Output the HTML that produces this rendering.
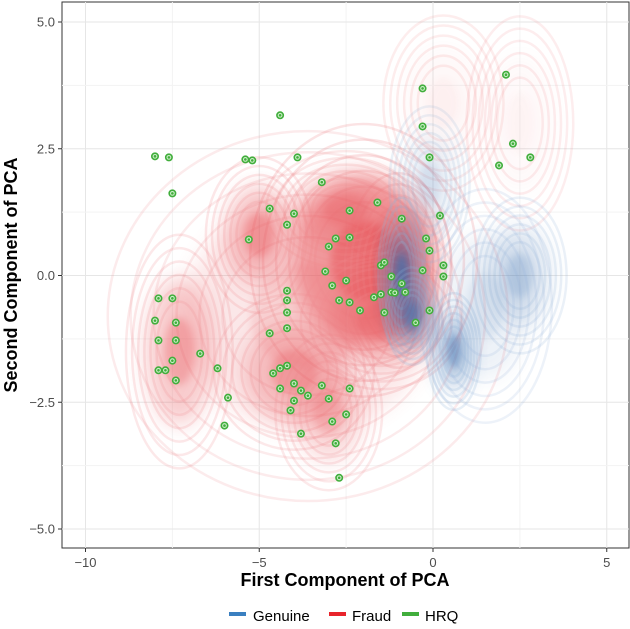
<!DOCTYPE html>
<html><head><meta charset="utf-8"><style>
body{margin:0;background:#fff;font-family:"Liberation Sans",sans-serif}
svg text{font-family:"Liberation Sans",sans-serif}
</style></head><body>
<svg id="c" width="630" height="624" xmlns="http://www.w3.org/2000/svg">
<defs>
<filter id="b1" x="-50%" y="-50%" width="200%" height="200%"><feGaussianBlur stdDeviation="10"/></filter>
<filter id="b2" x="-50%" y="-50%" width="200%" height="200%"><feGaussianBlur stdDeviation="4"/></filter>
<clipPath id="clip"><rect x="62" y="2" width="567" height="546"/></clipPath>
</defs>
<rect x="62" y="2" width="567" height="546" fill="#fff" stroke="#333" stroke-width="1"/>
<g id="grid"></g>
<g id="dens" clip-path="url(#clip)"></g>
<g id="pts"></g>
<g id="axes"></g>
<text x="345" y="586" text-anchor="middle" font-size="18" font-weight="bold">First Component of PCA</text>
<text transform="translate(17,275) rotate(-90)" text-anchor="middle" font-size="18" font-weight="bold">Second Component of PCA</text>
<g>
<rect x="229" y="612" width="17" height="4" fill="#3a7fc0"/>
<text x="253" y="621" font-size="15">Genuine</text>
<rect x="329" y="612" width="17" height="4" fill="#e8242b"/>
<text x="352" y="621" font-size="15">Fraud</text>
<rect x="402" y="612" width="17" height="4" fill="#41ae3c"/>
<text x="425" y="621" font-size="15">HRQ</text>
</g>
</svg>
<script>
const xTicks=[-10,-5,0,5];
const yTicks=[-5,-2.5,0,2.5,5];
const yTickLabels=["−5.0","−2.5","0.0","2.5","5.0"];
const xTickLabels=["−10","−5","0","5"];
const hrqX=[-8.0,-7.6,-7.5,-5.4,-5.2,-3.9,-4.4,-3.2,-4.7,-4.0,-4.2,-5.3,-2.4,-1.6,-0.9,-0.3,-0.3,-0.1,0.2,2.1,2.3,1.9,2.8,-3.0,-2.8,-2.4,-3.1,-2.9,-2.5,-1.5,-1.4,-1.2,-0.9,-1.7,-1.5,-0.8,-0.2,-0.1,-0.3,0.3,0.3,-0.1,-0.5,-1.4,-2.1,-2.7,-4.2,-4.2,-4.2,-4.2,-4.7,-7.9,-7.5,-8.0,-7.4,-7.9,-7.4,-7.5,-7.7,-7.4,-7.9,-6.7,-6.2,-5.9,-6.0,-4.4,-4.6,-4.2,-4.0,-4.4,-3.8,-4.0,-4.1,-3.6,-3.2,-3.0,-2.4,-2.9,-2.5,-3.8,-2.8,-2.7,-1.2,-2.4,-1.1];
const hrqY=[2.35,2.33,1.62,2.29,2.27,2.33,3.16,1.84,1.32,1.22,1.0,0.71,1.28,1.44,1.12,3.69,2.94,2.33,1.18,3.96,2.6,2.17,2.33,0.57,0.73,0.75,0.08,-0.2,-0.1,0.2,0.26,-0.02,-0.16,-0.43,-0.37,-0.33,0.73,0.49,0.1,0.2,-0.02,-0.69,-0.93,-0.73,-0.69,-0.49,-1.04,-0.49,-0.3,-0.73,-1.14,-0.45,-0.45,-0.89,-0.93,-1.28,-1.28,-1.68,-1.87,-2.07,-1.87,-1.54,-1.83,-2.41,-2.96,-1.83,-1.93,-1.78,-2.13,-2.23,-2.27,-2.47,-2.66,-2.37,-2.17,-2.43,-2.23,-2.88,-2.74,-3.12,-3.31,-3.99,-0.33,-0.53,-0.34];
const redBlobX=[-3.6,-2.0,-1.0,-5.0,-7.3,-4.0,-3.0,-2.5,0.3,2.5,-1.5];
const redBlobY=[-0.8,0.3,0.1,0.8,-1.5,-1.9,-2.7,1.3,3.4,3.0,-0.9];
const redBlobSX=[3.0,1.7,0.8,0.8,0.8,1.2,0.8,1.2,0.9,0.8,1.2];
const redBlobSY=[1.9,1.4,1.0,0.8,1.2,0.8,0.8,0.6,0.9,1.1,0.7];
const redBlobW=[0.18,0.7,0.7,0.45,0.4,0.4,0.3,0.35,0.05,0.04,0.4];
const blueBlobX=[-0.9,-0.6,0.6,2.5,-0.1,1.5];
const blueBlobY=[0.0,-0.8,-1.5,0.0,1.8,-0.6];
const blueBlobSX=[0.35,0.4,0.4,0.7,0.6,1.0];
const blueBlobSY=[0.8,0.5,0.6,0.8,0.8,1.2];
const blueBlobW=[0.8,0.6,0.5,0.25,0.15,0.12];
const NS="http://www.w3.org/2000/svg";
const sx=v=>433+v*34.75, sy=v=>275.5-v*50.7;
const g=id=>document.getElementById(id);
function mk(t,a,p){const e=document.createElementNS(NS,t);for(const k in a)e.setAttribute(k,a[k]);p.appendChild(e);return e;}
xTicks.forEach((v,i)=>{const l=mk('line',{x1:sx(v),x2:sx(v),y1:2,y2:548,stroke:'#e6e6e6'},g('grid'));

if(i<xTicks.length-1){const m=mk('line',{x1:sx(v+2.5),x2:sx(v+2.5),y1:2,y2:548,stroke:'#f3f3f3'},g('grid'));}
const t=mk('line',{x1:sx(v),x2:sx(v),y1:548,y2:552,stroke:'#333'},g('axes'));
const tx=mk('text',{x:sx(v),y:567,'text-anchor':'middle','font-size':13,fill:'#4d4d4d'},g('axes'));tx.textContent=xTickLabels[i];});
yTicks.forEach((v,i)=>{const l=mk('line',{x1:62,x2:629,y1:sy(v),y2:sy(v),stroke:'#e6e6e6'},g('grid'));

if(i<yTicks.length-1){const m=mk('line',{x1:62,x2:629,y1:sy(v+1.25),y2:sy(v+1.25),stroke:'#f3f3f3'},g('grid'));}
const t=mk('line',{x1:58,x2:62,y1:sy(v),y2:sy(v),stroke:'#333'},g('axes'));
const tx=mk('text',{x:55,y:sy(v)+4.5,'text-anchor':'end','font-size':13,fill:'#4d4d4d'},g('axes'));tx.textContent=yTickLabels[i];});
function blobs(X,Y,SX,SY,W,fill,stroke,name){
 X.forEach((x,i)=>{
  const rx=SX[i]*34.75, ry=SY[i]*50.7;
  const f=mk('ellipse',{cx:sx(x),cy:sy(Y[i]),rx:rx*1.2,ry:ry*1.2,fill:fill,opacity:W[i]*0.75,filter:'url(#b1)'},g('dens'));
  
  const c=mk('ellipse',{cx:sx(x),cy:sy(Y[i]),rx:rx*0.55,ry:ry*0.55,fill:fill,opacity:W[i]*0.8,filter:'url(#b2)'},g('dens'));
  
  for(let k=1;k<=6;k++){const s=0.6+k*0.22;
   const r=mk('ellipse',{cx:sx(x),cy:sy(Y[i]),rx:rx*s,ry:ry*s,fill:'none',stroke:stroke,'stroke-width':2.5,opacity:0.15+W[i]*0.12},g('dens'));
   }
 });
}
blobs(redBlobX,redBlobY,redBlobSX,redBlobSY,redBlobW,'#e8545a','#f08a8e','fraud');
blobs(blueBlobX,blueBlobY,blueBlobSX,blueBlobSY,blueBlobW,'#3d6fae','#8fb3d8','genuine');
hrqX.forEach((x,i)=>{
 const o=mk('circle',{cx:sx(x),cy:sy(hrqY[i]),r:3.2,fill:'#cdeec9',stroke:'#41ae3c','stroke-width':1.6},g('pts'));
 
 const d=mk('circle',{cx:sx(x),cy:sy(hrqY[i]),r:1.3,fill:'#41ae3c'},g('pts'));
 
});
</script>
</body></html>
